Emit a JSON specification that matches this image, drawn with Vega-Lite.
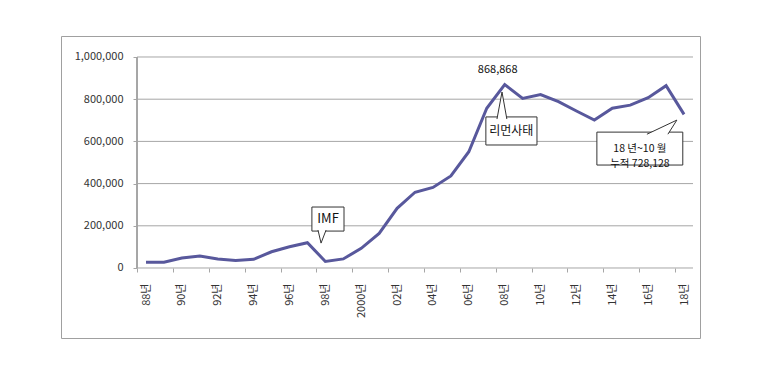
{
  "$schema": "https://vega.github.io/schema/vega-lite/v6.json",
  "width": 639,
  "height": 302,
  "autosize": {"type": "none"},
  "padding": {"left": 61, "top": 36, "right": 60, "bottom": 38},
  "background": "white",
  "config": {
    "view": {"stroke": "#a0a0a0", "strokeWidth": 1},
    "font": "Noto Sans CJK KR",
    "axis": {"labelFont": "Noto Sans CJK KR", "labelFontSize": 11, "labelColor": "#333333"}
  },
  "datasets": {
    "main": [
      {"year": 1988, "value": 27000},
      {"year": 1989, "value": 27000},
      {"year": 1990, "value": 47000},
      {"year": 1991, "value": 57000},
      {"year": 1992, "value": 43000},
      {"year": 1993, "value": 36000},
      {"year": 1994, "value": 41000},
      {"year": 1995, "value": 77000},
      {"year": 1996, "value": 101000},
      {"year": 1997, "value": 120000},
      {"year": 1998, "value": 31000},
      {"year": 1999, "value": 43000},
      {"year": 2000, "value": 93000},
      {"year": 2001, "value": 164000},
      {"year": 2002, "value": 283000},
      {"year": 2003, "value": 359000},
      {"year": 2004, "value": 382000},
      {"year": 2005, "value": 436000},
      {"year": 2006, "value": 551000},
      {"year": 2007, "value": 757000},
      {"year": 2008, "value": 868868},
      {"year": 2009, "value": 804000},
      {"year": 2010, "value": 822000},
      {"year": 2011, "value": 788000},
      {"year": 2012, "value": 744000},
      {"year": 2013, "value": 701000},
      {"year": 2014, "value": 757000},
      {"year": 2015, "value": 772000},
      {"year": 2016, "value": 807000},
      {"year": 2017, "value": 864000},
      {"year": 2018, "value": 728128}
    ],
    "grid": [
      {"v": 0}, {"v": 200000}, {"v": 400000}, {"v": 600000}, {"v": 800000}, {"v": 1000000}
    ],
    "boxes": [
      {"c": "imf", "x1": 1997.25, "x2": 1999.04, "y1": 289000, "y2": 175000},
      {"c": "lehman", "x1": 2006.95, "x2": 2009.8, "y1": 716000, "y2": 583000},
      {"c": "cum", "x1": 2013.14, "x2": 2017.93, "y1": 644000, "y2": 488000}
    ],
    "wedges": [
      {"c": "imf", "i": 0, "x": 1997.59, "y": 180000},
      {"c": "imf", "i": 1, "x": 1997.76, "y": 118000},
      {"c": "imf", "i": 2, "x": 1998.04, "y": 180000},
      {"c": "lehman", "i": 0, "x": 2007.57, "y": 706000},
      {"c": "lehman", "i": 1, "x": 2007.85, "y": 834000},
      {"c": "lehman", "i": 2, "x": 2008.12, "y": 706000},
      {"c": "cum", "i": 0, "x": 2015.93, "y": 634000},
      {"c": "cum", "i": 1, "x": 2017.6, "y": 701000},
      {"c": "cum", "i": 2, "x": 2017.1, "y": 634000}
    ],
    "notes": [
      {"x": 2008, "y": 868868, "t": "868,868", "k": "peak"},
      {"x": 1998.15, "y": 232000, "t": "IMF", "k": "imf"},
      {"x": 2008.37, "y": 649000, "t": "리먼사태", "k": "lehman"},
      {"x": 2015.54, "y": 566000, "t": "18 년~10 월\n누적 728,128", "k": "cum"}
    ]
  },
  "layer": [
    {
      "data": {"name": "grid"},
      "mark": {"type": "rule", "color": "#a6a6a6", "strokeWidth": 1},
      "encoding": {
        "y": {"field": "v", "type": "quantitative"},
        "x": {"datum": 1987.5, "type": "quantitative"},
        "x2": {"datum": 2018.5}
      }
    },
    {
      "data": {"name": "grid"},
      "mark": {"type": "rule", "color": "#a6a6a6", "strokeWidth": 1},
      "encoding": {
        "x": {"datum": 1987.5, "type": "quantitative"},
        "y": {"datum": 0, "type": "quantitative"},
        "y2": {"datum": 1000000}
      }
    },
    {
      "data": {"name": "main"},
      "mark": {"type": "line", "color": "#58589c", "strokeWidth": 3, "strokeJoin": "miter"},
      "encoding": {
        "x": {
          "field": "year",
          "type": "quantitative",
          "scale": {"domain": [1983.26, 2018.89], "nice": false, "zero": false},
          "axis": {
            "title": null,
            "orient": "bottom",
            "offset": -70,
            "domain": false,
            "grid": false,
            "values": [1988, 1989, 1990, 1991, 1992, 1993, 1994, 1995, 1996, 1997, 1998, 1999, 2000, 2001, 2002, 2003, 2004, 2005, 2006, 2007, 2008, 2009, 2010, 2011, 2012, 2013, 2014, 2015, 2016, 2017, 2018, 2019],
            "tickOffset": -8.97,
            "labelOffset": 8.97,
            "tickSize": 4,
            "tickColor": "#a6a6a6",
            "labelAngle": -90,
            "labelAlign": "right",
            "labelBaseline": "middle",
            "labelPadding": 11,
            "labelOverlap": false,
            "labelFlush": false,
            "labelExpr": "datum.value % 2 == 1 ? '' : (datum.value == 2000 ? '2000년' : substring(toString(datum.value), 2, 4) + '년')"
          }
        },
        "y": {
          "field": "value",
          "type": "quantitative",
          "scale": {"domain": [-331754, 1099526], "nice": false, "zero": false},
          "axis": {
            "title": null,
            "orient": "left",
            "offset": -76,
            "domain": false,
            "grid": false,
            "values": [0, 200000, 400000, 600000, 800000, 1000000],
            "format": ",d",
            "tickSize": 4,
            "tickColor": "#a6a6a6",
            "labelPadding": 10,
            "labelFlush": false,
            "labelOverlap": false
          }
        }
      }
    },
    {
      "data": {"name": "boxes"},
      "mark": {"type": "rect", "fill": "white", "stroke": "#333333", "strokeWidth": 1},
      "encoding": {
        "x": {"field": "x1", "type": "quantitative"},
        "x2": {"field": "x2"},
        "y": {"field": "y1", "type": "quantitative"},
        "y2": {"field": "y2"}
      }
    },
    {
      "data": {"name": "wedges"},
      "mark": {"type": "line", "fill": "white", "stroke": "#333333", "strokeWidth": 1},
      "encoding": {
        "x": {"field": "x", "type": "quantitative"},
        "y": {"field": "y", "type": "quantitative"},
        "detail": {"field": "c"},
        "order": {"field": "i", "type": "quantitative"}
      }
    },
    {
      "data": {"name": "notes"},
      "transform": [{"filter": "datum.k == 'peak'"}],
      "mark": {"type": "text", "fontSize": 11, "color": "#111111", "dx": -7, "dy": -15},
      "encoding": {
        "x": {"field": "x", "type": "quantitative"},
        "y": {"field": "y", "type": "quantitative"},
        "text": {"field": "t"}
      }
    },
    {
      "data": {"name": "notes"},
      "transform": [{"filter": "datum.k == 'imf'"}],
      "mark": {"type": "text", "fontSize": 13, "color": "#111111"},
      "encoding": {
        "x": {"field": "x", "type": "quantitative"},
        "y": {"field": "y", "type": "quantitative"},
        "text": {"field": "t"}
      }
    },
    {
      "data": {"name": "notes"},
      "transform": [{"filter": "datum.k == 'lehman'"}],
      "mark": {"type": "text", "fontSize": 12, "color": "#111111"},
      "encoding": {
        "x": {"field": "x", "type": "quantitative"},
        "y": {"field": "y", "type": "quantitative"},
        "text": {"field": "t"}
      }
    },
    {
      "data": {"name": "notes"},
      "transform": [{"filter": "datum.k == 'cum'"}],
      "mark": {"type": "text", "fontSize": 10.5, "color": "#111111", "lineBreak": "\n", "lineHeight": 15},
      "encoding": {
        "x": {"field": "x", "type": "quantitative"},
        "y": {"field": "y", "type": "quantitative"},
        "text": {"field": "t"}
      }
    }
  ]
}
